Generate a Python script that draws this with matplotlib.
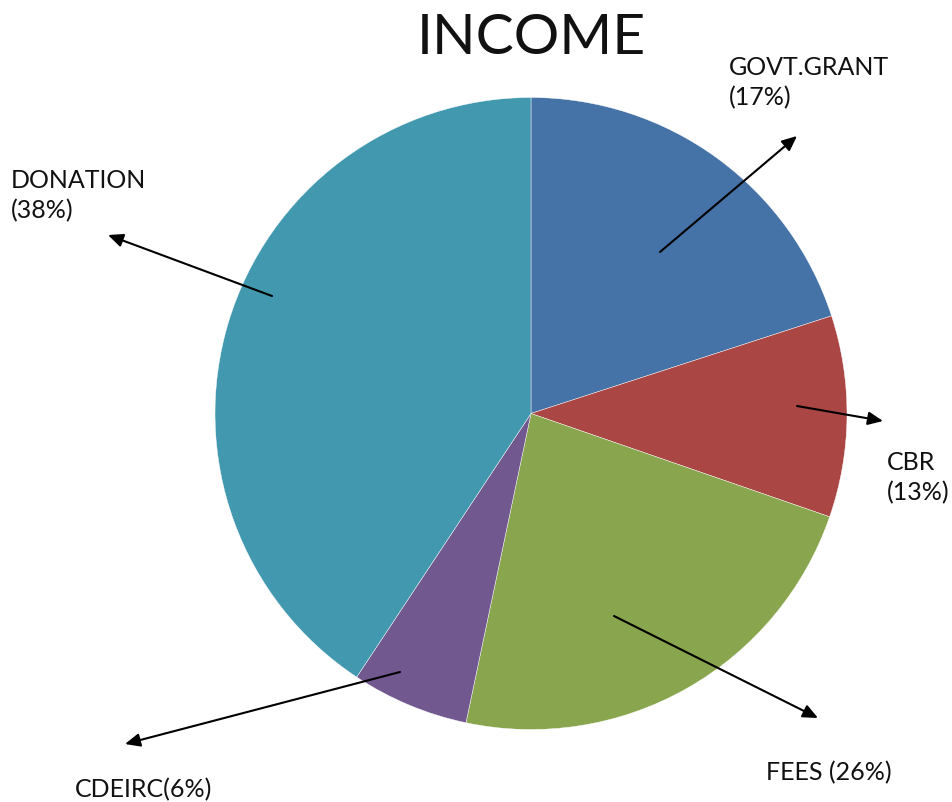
import matplotlib
matplotlib.use("Agg")
import matplotlib.pyplot as plt
from matplotlib import font_manager

names = {f.name for f in font_manager.fontManager.ttflist}
main = "Lato" if "Lato" in names else "Liberation Sans"
plt.rcParams['font.family'] = [main, "DejaVu Sans"]

categories = ["GOVT.GRANT", "CBR", "FEES", "CDEIRC", "DONATION"]
values = [20.0, 10.3, 23.0, 6.0, 40.7]          # slice sizes as drawn
label_texts = ["GOVT.GRANT\n(17%)", "CBR\n(13%)", "FEES (26%)", "CDEIRC(6%)", "DONATION\n(38%)"]
colors = ["#4572A7", "#AA4643", "#89A54E", "#71588F", "#4198AF"]

W, H = 953, 803
fig = plt.figure(figsize=(W / 100, H / 100), dpi=100)
ax = fig.add_axes([0, 0, 1, 1])

cx, cy, r = 531, H - 414.5, 316
ax.pie(values, colors=colors, startangle=90, counterclock=False,
       center=(cx, cy), radius=r, frame=True,
       wedgeprops=dict(linewidth=0.3, edgecolor='white'))
ax.set_xlim(0, W)
ax.set_ylim(0, H)
ax.set_aspect('equal')
ax.axis('off')

def P(x, y):
    return (x, H - y)

# arrows: (start inside slice, arrow head), label top-left position
arrows = [
    ((660, 253), (797, 137), (729, 56)),
    ((797, 407), (883, 422), (887, 451)),
    ((614, 617), (818, 719), (766, 761)),
    ((400, 673), (125, 745), (75, 778)),
    ((272, 297), (108, 236), (11, 169)),
]
for txt, (s, e, lp) in zip(label_texts, arrows):
    ax.annotate("", xy=P(*e), xytext=P(*s),
                arrowprops=dict(arrowstyle="-|>,head_length=0.9,head_width=0.4",
                                color="black", lw=1.5, shrinkA=0, shrinkB=0))
    ax.text(*P(*lp), txt, ha='left', va='top', fontsize=18, linespacing=1.35,
            color="#111111")

ax.text(*P(531, 39), "INCOME", ha='center', va='center', fontsize=41,
        fontweight='normal', color="#111111")

fig.savefig("out.png", dpi=100)
